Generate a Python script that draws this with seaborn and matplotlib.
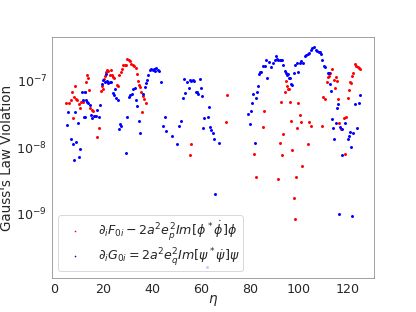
import matplotlib
matplotlib.use("Agg")
import matplotlib.pyplot as plt
import pandas as pd
import seaborn as sns

# values
red_eta = [4.9, 6.1, 6.7, 7.0, 7.7, 8.2, 8.3, 9.0, 9.3, 10.0, 10.5, 10.9, 11.8, 12.6, 12.8,
           13.4, 13.8, 14.1, 14.6, 15.2, 15.9, 16.7, 17.3, 18.2, 18.9, 19.4, 19.8, 20.2, 20.9,
           21.3, 21.7, 22.1, 22.7, 23.0, 23.4, 23.9, 24.3, 25.7, 26.1, 26.6, 27.2, 27.5, 28.2,
           28.7, 29.2, 29.9, 30.5, 30.9, 31.4, 32.0, 32.5, 33.3, 33.9, 34.3, 34.7, 35.2, 35.5,
           35.9, 36.2, 36.5, 37.3, 55.5, 55.9, 70.1, 70.8, 81.8, 82.4, 85.4, 85.8, 91.7, 92.2,
           92.6, 93.2, 93.6, 94.3, 94.7, 95.1, 95.6, 96.0, 96.6, 97.0, 97.4, 98.0, 98.5, 98.9,
           99.5, 99.9, 100.4, 100.9, 101.4, 103.8, 104.2, 104.9, 109.7, 110.1, 110.7, 111.4,
           111.9, 112.3, 113.0, 113.6, 114.3, 114.8, 115.2, 115.7, 116.1, 116.5, 117.5, 118.6,
           119.1, 119.5, 120.1, 120.5, 120.9, 121.4, 122.0, 122.4, 123.1, 123.6, 124.1, 124.5,
           125.0]
red_val = [4.5e-8, 4.5e-8, 5.0e-8, 6.6e-8, 2.7e-8, 5.7e-8, 8.3e-8, 5.3e-8, 5.0e-8, 4.4e-8,
           3.8e-8, 4.7e-8, 4.8e-8, 6.8e-8, 9.6e-8, 1.2e-7, 1.07e-7, 7.2e-8, 3.9e-8, 3.6e-8,
           3.5e-8, 2.9e-8, 1.4e-8, 1.9e-8, 6.9e-8, 8.1e-8, 7.3e-8, 1.03e-7, 1.16e-7, 1.33e-7,
           1.41e-7, 1.38e-7, 1.19e-7, 1.41e-7, 1.19e-7, 1.12e-7, 1.07e-7, 8.5e-8, 8.2e-8, 1.2e-7,
           1.33e-7, 1.5e-7, 1.68e-7, 1.68e-7, 1.72e-7, 2.1e-7, 2.04e-7, 1.95e-7, 1.74e-7, 1.72e-7,
           1.64e-7, 1.55e-7, 1.23e-7, 9.8e-8, 8.4e-8, 7.9e-8, 6.8e-8, 3.3e-8, 5.8e-8, 5.2e-8,
           4.5e-8, 7.7e-9, 1.1e-8, 2.4e-8, 6.1e-8, 8.0e-9, 3.5e-9, 2.0e-8, 3.5e-8, 3.3e-9,
           1.17e-8, 4.7e-8, 7.7e-9, 1.55e-8, 6.7e-8, 9.9e-8, 8.2e-8, 7.5e-8, 7.5e-8, 4.7e-8,
           2.5e-8, 9.1e-9, 1.7e-9, 8.2e-10, 3.6e-9, 1.9e-8, 4.6e-8, 3.0e-8, 2.4e-8, 5.2e-9,
           1.12e-8, 2.4e-8, 2.1e-8, 2.1e-8, 5.6e-8, 5.2e-8, 9.4e-8, 1.12e-7, 1.15e-7, 1.3e-7,
           1.5e-7, 1.0e-7, 7.6e-8, 1.11e-7, 9.7e-8, 5.2e-8, 2.3e-8, 1.84e-8, 2.7e-8, 7.8e-9,
           2.8e-8, 5.5e-8, 7.2e-8, 9.4e-8, 9.1e-8, 1.15e-7, 1.3e-7, 1.74e-7, 1.64e-7, 1.57e-7,
           1.53e-7, 1.5e-7]

blue_eta = [5.0, 5.5, 6.6, 7.5, 8.1, 8.5, 9.0, 9.6, 10.0, 10.5, 11.1, 11.5, 11.9, 12.4, 12.7,
            13.0, 13.4, 13.8, 14.5, 15.0, 15.4, 16.4, 16.9, 17.3, 18.3, 18.7, 19.4, 20.0, 20.5,
            21.0, 21.4, 22.0, 22.7, 23.2, 23.9, 24.3, 24.7, 25.1, 25.9, 26.5, 26.9, 27.3, 29.4,
            29.8, 30.5, 31.1, 31.7, 32.1, 32.8, 33.2, 33.9, 34.6, 35.2, 36.2, 36.9, 37.3, 37.8,
            38.4, 39.1, 39.6, 40.2, 40.7, 41.1, 41.7, 42.2, 42.9, 43.7, 44.4, 45.2, 45.6, 48.1,
            50.0, 51.1, 51.9, 52.6, 53.0, 53.6, 54.4, 54.9, 55.5, 56.0, 56.6, 57.2, 57.9, 58.5,
            58.9, 59.5, 60.0, 60.4, 60.8, 61.3, 62.6, 62.7, 63.2, 63.8, 64.3, 64.8, 65.3, 65.7,
            67.2, 79.4, 79.9, 80.3, 80.9, 81.4, 82.0, 82.4, 82.8, 83.3, 83.7, 84.1, 84.7, 85.5,
            86.1, 86.5, 87.2, 87.8, 88.5, 89.5, 90.3, 90.6, 91.1, 91.7, 92.2, 92.7, 93.3, 93.6,
            94.3, 94.7, 95.1, 95.6, 96.0, 96.4, 97.0, 97.4, 97.9, 98.5, 99.2, 99.9, 100.5, 101.1,
            101.8, 102.6, 103.1, 103.7, 104.2, 104.9, 105.6, 106.3, 107.0, 107.7, 108.3, 108.8,
            109.3, 109.7, 110.4, 110.9, 111.9, 112.4, 112.7, 113.1, 113.7, 114.1, 114.6, 115.2,
            115.6, 116.0, 116.5, 117.1, 117.6, 117.8, 119.0, 120.0, 120.5, 121.0, 121.4, 122.0,
            122.4, 123.1, 123.9, 124.5, 125.0]
blue_val = [2.16e-8, 3.4e-8, 1.3e-8, 1.1e-8, 6.5e-9, 3.3e-8, 1.2e-8, 2.3e-8, 7.0e-9, 9.2e-9,
            6.7e-8, 5.0e-8, 2.8e-8, 2.8e-8, 6.7e-8, 5.0e-8, 4.7e-8, 4.6e-8, 4.2e-8, 3.0e-8,
            2.7e-8, 2.9e-8, 2.9e-8, 3.6e-8, 2.8e-8, 4.3e-8, 8.9e-8, 1.0e-7, 9.4e-8, 1.26e-7,
            9.9e-8, 9.2e-8, 9.4e-8, 9.4e-8, 6.5e-8, 6.1e-8, 7.3e-8, 5.5e-8, 5.0e-8, 1.84e-8,
            2.2e-8, 2.1e-8, 8.2e-9, 2.8e-8, 5.7e-8, 6.0e-8, 6.3e-8, 7.3e-8, 7.6e-8, 5.0e-8,
            4.1e-8, 2.45e-8, 1.64e-8, 6.2e-8, 7.9e-8, 9.0e-8, 1.0e-7, 1.19e-7, 1.43e-7, 1.48e-7,
            1.45e-7, 1.5e-7, 1.4e-7, 1.53e-7, 1.45e-7, 1.38e-7, 9.4e-8, 2.05e-8, 2.85e-8, 1.74e-8,
            1.46e-8, 1.1e-8, 2.1e-8, 2.45e-8, 5.5e-8, 1.03e-7, 6.5e-8, 9.4e-8, 7.8e-8, 1.0e-7,
            9.8e-8, 1.0e-7, 9.8e-8, 6.8e-8, 6.8e-8, 6.3e-8, 1.06e-7, 7.6e-8, 5.8e-8, 1.9e-8,
            2.7e-8, 1.6e-10, 2.85e-8, 4.0e-8, 2.0e-8, 1.8e-8, 1.6e-8, 1.33e-8, 2.0e-9, 1.16e-8,
            3.1e-8, 2.24e-8, 3.5e-8, 4.5e-8, 6.3e-8, 1.17e-8, 5.4e-8, 6.7e-8, 8.1e-8, 1.26e-7,
            1.35e-7, 1.35e-7, 1.64e-7, 1.64e-7, 2.0e-7, 1.08e-7, 1.9e-7, 1.6e-7, 1.8e-7, 2.0e-7,
            2.3e-7, 2.06e-7, 2.0e-7, 2.0e-7, 2.0e-7, 2.0e-7, 1.72e-7, 1.4e-7, 1.3e-7, 1.19e-7,
            1.26e-7, 1.1e-7, 1.08e-7, 8.8e-8, 8.5e-8, 1.27e-7, 1.68e-7, 1.8e-7, 1.32e-7, 1.8e-7,
            1.97e-7, 1.84e-7, 2.3e-7, 2.37e-7, 2.45e-7, 2.6e-7, 2.9e-7, 3.1e-7, 3.2e-7, 2.9e-7,
            2.75e-7, 2.65e-7, 2.7e-7, 2.45e-7, 2.0e-7, 1.64e-7, 1.6e-7, 1.3e-7, 1.29e-7, 8.7e-8,
            7.0e-8, 2.6e-8, 1.9e-8, 1.3e-8, 2.3e-8, 3.8e-8, 4.4e-8, 1.0e-9, 2.0e-8, 7.5e-9,
            1.84e-8, 2.3e-8, 1.3e-8, 1.48e-8, 1.7e-8, 1.0e-8, 9.2e-10, 1.62e-8, 4.4e-8, 1.9e-8,
            4.5e-8, 6.1e-8]

red_label = r'$\partial_i F_{0i} - 2a^2 e_p^2 Im[\phi^* \dot{\phi}]\phi$'
blue_label = r'$\partial_i G_{0i} = 2a^2 e_q^2 Im[\psi^* \dot{\psi}]\psi$'

df_red = pd.DataFrame({'eta': red_eta, 'val': red_val})
df_blue = pd.DataFrame({'eta': blue_eta, 'val': blue_val})

sns.set_style('white')
plt.rcParams['axes.edgecolor'] = 'grey'

fig, ax = plt.subplots(figsize=(6.4, 4.8), dpi=65)
sns.scatterplot(data=df_red, x='eta', y='val', color='red', s=11, linewidth=0, label=red_label, ax=ax)
sns.scatterplot(data=df_blue, x='eta', y='val', color='blue', s=11, linewidth=0, label=blue_label, ax=ax)

ax.set_yscale('log')
ax.set_xlim(-1, 131)
ax.set_ylim(1.1e-10, 4.4e-7)
ax.set_xticks([0, 20, 40, 60, 80, 100, 120])
ax.tick_params(labelsize=14, pad=2)
ax.set_xlabel(r'$\eta$', fontsize=15, labelpad=-3)
ax.set_ylabel("Gauss's Law Violation", fontsize=15, labelpad=3)
ax.legend(loc='lower left', fontsize=14, markerscale=0.55, labelspacing=0.3, borderpad=0.3)

fig.savefig('out.png', dpi=65)
